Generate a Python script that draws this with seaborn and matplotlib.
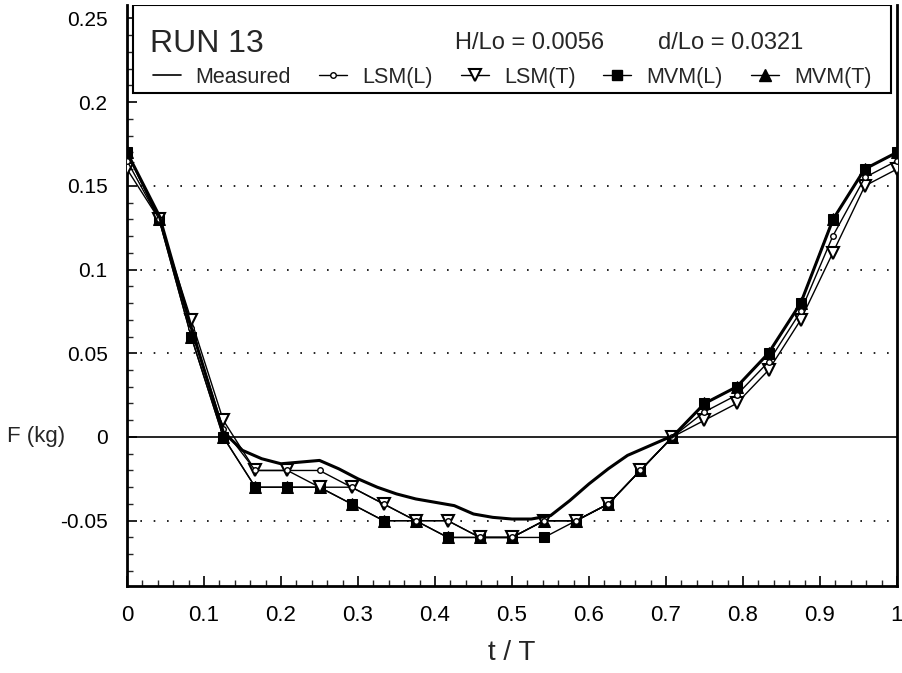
import numpy as np
import pandas as pd
import matplotlib
matplotlib.use("Agg")
import matplotlib.pyplot as plt
from matplotlib.patches import Rectangle
from matplotlib.ticker import MultipleLocator, FixedLocator
import seaborn as sns

# phase points t/T (24 steps per period)
T_POINTS = [i / 24 for i in range(25)]

LSM_L = [0.165, 0.13, 0.065, 0.005, -0.02, -0.02, -0.02, -0.03, -0.04, -0.05, -0.05, -0.06, -0.06,
         -0.05, -0.05, -0.04, -0.02, 0.0, 0.015, 0.025, 0.045, 0.075, 0.12, 0.155, 0.165]
LSM_T = [0.16, 0.13, 0.07, 0.01, -0.02, -0.02, -0.03, -0.03, -0.04, -0.05, -0.05, -0.06, -0.06,
         -0.05, -0.05, -0.04, -0.02, 0.0, 0.01, 0.02, 0.04, 0.07, 0.11, 0.15, 0.16]
MVM_L = [0.17, 0.13, 0.06, 0.0, -0.03, -0.03, -0.03, -0.04, -0.05, -0.05, -0.06, -0.06, -0.06,
         -0.06, -0.05, -0.04, -0.02, 0.0, 0.02, 0.03, 0.05, 0.08, 0.13, 0.16, 0.17]
MVM_T = [0.17, 0.13, 0.06, 0.0, -0.03, -0.03, -0.03, -0.04, -0.05, -0.05, -0.06, -0.06, -0.06,
         -0.05, -0.05, -0.04, -0.02, 0.0, 0.02, 0.03, 0.05, 0.08, 0.13, 0.16, 0.17]

# measured force record
T_MEAS = [0.0, 0.042, 0.083, 0.125, 0.15, 0.175, 0.2, 0.225, 0.25, 0.275, 0.3, 0.325, 0.35,
          0.375, 0.4, 0.425, 0.45, 0.475, 0.5, 0.525, 0.55, 0.575, 0.6, 0.625, 0.65, 0.675,
          0.7, 0.708, 0.75, 0.792, 0.833, 0.875, 0.917, 0.958, 1.0]
F_MEAS = [0.17, 0.132, 0.066, 0.003, -0.008, -0.013, -0.016, -0.015, -0.014, -0.019, -0.025,
          -0.030, -0.034, -0.037, -0.039, -0.041, -0.046, -0.048, -0.049, -0.049, -0.047,
          -0.038, -0.028, -0.019, -0.011, -0.006, -0.001, 0.0, 0.02, 0.03, 0.05, 0.08, 0.13,
          0.16, 0.17]

X_TICKS = [0, 0.1, 0.2, 0.3, 0.4, 0.5, 0.6, 0.7, 0.8, 0.9, 1.0]
X_LABELS = ["0", "0.1", "0.2", "0.3", "0.4", "0.5", "0.6", "0.7", "0.8", "0.9", "1"]
Y_TICKS = [-0.05, 0, 0.05, 0.1, 0.15, 0.2, 0.25]
Y_LABELS = ["-0.05", "0", "0.05", "0.1", "0.15", "0.2", "0.25"]

sns.set_style("ticks")
plt.rcParams["font.family"] = ["Liberation Sans", "DejaVu Sans"]

fig = plt.figure(figsize=(9.02, 6.73), dpi=100)
ax = fig.add_axes([127 / 902, 1 - 586 / 673, 770 / 902, 581 / 673])

# horizontal dotted grid + zero line
for yv in [-0.05, 0.05, 0.1, 0.15]:
    ax.axhline(yv, color="black", lw=1.2, ls=(0, (1, 7)), zorder=0)
ax.axhline(0, color="black", lw=1.2, zorder=1)

sns.lineplot(x=T_POINTS, y=MVM_L, ax=ax, color="black", lw=1.0, marker="s", ms=7,
             mfc="black", mec="black", zorder=3)
sns.lineplot(x=T_POINTS, y=MVM_T, ax=ax, color="black", lw=1.0, marker="^", ms=9,
             mfc="black", mec="black", zorder=3)
sns.lineplot(x=T_POINTS, y=LSM_T, ax=ax, color="black", lw=1.0, marker="v", ms=9,
             mfc="white", mec="black", mew=1.5, zorder=4)
sns.lineplot(x=T_POINTS, y=LSM_L, ax=ax, color="black", lw=1.0, marker="o", ms=4,
             mfc="white", mec="black", mew=1.0, zorder=5)
sns.lineplot(x=T_MEAS, y=F_MEAS, ax=ax, color="black", lw=2.2, zorder=6)

ax.set_xlim(0, 1)
ax.set_ylim(-0.089, 0.258)
ax.xaxis.set_major_locator(FixedLocator(X_TICKS))
ax.xaxis.set_minor_locator(MultipleLocator(0.02))
ax.yaxis.set_major_locator(FixedLocator(Y_TICKS))
ax.yaxis.set_minor_locator(MultipleLocator(0.01))
ax.set_xticklabels(X_LABELS)
ax.set_yticklabels(Y_LABELS)
ax.tick_params(axis="both", which="major", direction="in", length=7, width=1.2, colors="black")
ax.tick_params(axis="both", which="minor", direction="in", length=4, width=1.0)
ax.tick_params(axis="x", labelsize=16, pad=14)
ax.tick_params(axis="y", labelsize=15, pad=14)
for side in ["left", "bottom", "right", "top"]:
    ax.spines[side].set_linewidth(2.0)
    ax.spines[side].set_color("black")
ax.spines["top"].set_visible(False)

ax.set_xlabel("t / T", fontsize=20, labelpad=10)
ax.set_ylabel("F (kg)", fontsize=16, rotation=0, ha="center", va="center")
ax.yaxis.set_label_coords(-0.118, (0.0 + 0.089) / (0.258 + 0.089))

# header box with run info and legend
ax.add_patch(Rectangle((0.008, 0.848), 0.984, 0.152, transform=ax.transAxes,
                       facecolor="white", edgecolor="black", lw=1.5, zorder=7))
ax.text(0.03, 0.933, "RUN 13", transform=ax.transAxes, fontsize=23, va="center", zorder=8)
ax.text(0.426, 0.935, "H/Lo = 0.0056", transform=ax.transAxes,
        fontsize=17, va="center", zorder=8)
ax.text(0.69, 0.935, "d/Lo = 0.0321", transform=ax.transAxes,
        fontsize=17, va="center", zorder=8)

handles = [
    plt.Line2D([], [], color="black", lw=1.2),
    plt.Line2D([], [], color="black", lw=1.0, marker="o", ms=4, mfc="white"),
    plt.Line2D([], [], color="black", lw=1.0, marker="v", ms=9, mfc="white", mew=1.5),
    plt.Line2D([], [], color="black", lw=1.0, marker="s", ms=7),
    plt.Line2D([], [], color="black", lw=1.0, marker="^", ms=9),
]
labels = ["Measured", "LSM(L)", "LSM(T)", "MVM(L)", "MVM(T)"]
leg = ax.legend(handles, labels, ncol=5, loc="center", bbox_to_anchor=(0.5, 0.876),
                frameon=False, handlelength=1.3, handletextpad=0.7,
                columnspacing=1.3, prop={"size": 15.5})
leg.set_zorder(9)

fig.savefig("out.png", dpi=100)
